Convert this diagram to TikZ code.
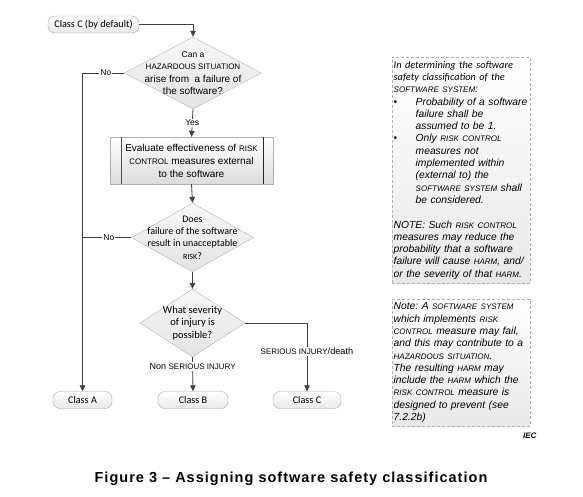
\documentclass[tikz,border=0pt]{standalone}
\usepackage{fontspec}
\setmainfont{Liberation Sans}
\newfontfamily\calibri{Carlito}
\usetikzlibrary{positioning}
\usetikzlibrary{arrows.meta}
\usetikzlibrary{shapes.geometric}

% fake small capitals, as in the standard's typesetting
\newcommand{\smc}[1]{{\fontsize{8}{9}\selectfont #1}}

\begin{document}
\frenchspacing
\begin{tikzpicture}[x=1pt,y=-1pt]
        \tikzstyle{terminal}=[draw=gray!70, rounded corners=7pt,
            top color=white, bottom color=gray!18, minimum height=17pt,
            inner sep=1pt, font=\calibri\fontsize{10.2}{12}\selectfont]
        \tikzstyle{decision}=[diamond, draw=gray!60, top color=gray!6,
            bottom color=gray!22, inner sep=0pt]
        \tikzstyle{dtext}=[align=center, inner sep=0pt]
        \tikzstyle{process}=[draw=gray!60, top color=white, bottom color=gray!28,
            minimum width=163pt, minimum height=47pt, inner sep=0pt,
            align=center, font=\fontsize{10}{13}\selectfont]
        \tikzstyle{note}=[draw=gray!60, dash pattern=on 3pt off 2pt,
            top color=white, bottom color=gray!18, text width=135pt,
            inner xsep=1.5pt, inner ysep=2pt, align=left,
            font=\itshape\fontsize{10.3}{12.3}\selectfont]
        \tikzstyle{flow}=[draw=black!75, line width=0.8pt,
            -{Triangle[length=6pt, width=5.5pt]}]
        \tikzstyle{link}=[draw=black!75, line width=0.8pt]
        \tikzstyle{answer}=[fill=white, inner sep=1pt,
            font=\fontsize{8.5}{10}\selectfont]

        \useasboundingbox (0,0) rectangle (583,497);

            % flow chart
            \node[terminal, minimum width=91pt] (start) at (93.5,24.5) {Class C (by default)};

            \node[decision, minimum width=137pt, minimum height=72pt,
                label={[dtext, font=\fontsize{10}{12.6}\selectfont]center:{{\fontsize{8.5}{10}\selectfont Can a}\\
                \smc{HAZARDOUS SITUATION}\\arise from\ \ a failure of\\the software?}}]
                (hazard) at (193,73) {};

            \node[process] (evaluate) at (191.5,160.5)
                {Evaluate effectiveness of \smc{RISK}\\\smc{CONTROL} measures external\\to the software};
            \draw[black!70] ([xshift=11pt]evaluate.north west) -- ([xshift=11pt]evaluate.south west);
            \draw[black!85] ([xshift=-10pt]evaluate.north east) -- ([xshift=-10pt]evaluate.south east);

            \node[decision, minimum width=122pt, minimum height=69pt,
                label={[dtext, font=\calibri\fontsize{10}{12.4}\selectfont]center:{Does\\
                failure of the software\\result in unacceptable\\\smc{RISK}?}}]
                (risk) at (192.5,237.5) {};

            \node[decision, minimum width=105pt, minimum height=68pt,
                label={[dtext, font=\calibri\fontsize{10.5}{12.5}\selectfont]center:{What severity\\
                of injury is\\possible?}}]
                (severity) at (192.5,323) {};

            \node[terminal, minimum width=59pt] (classA) at (82.5,400) {Class A};
            \node[terminal, minimum width=70pt] (classB) at (193,400) {Class B};
            \node[terminal, minimum width=68pt] (classC) at (307,400) {Class C};

            \coordinate (join) at (classA.north |- risk.west);

            \draw[flow] (start.east) -| (hazard.north);
            \draw[flow] (hazard.south) -- (evaluate.north)
            node[answer, midway] {Yes};
            \draw[flow] (evaluate.south) -- (risk.north);
            \draw[flow] (risk.south) -- (severity.north);
            \draw[flow] (hazard.west) -| (classA.north)
            node[answer, pos=0.22] {No};
            \draw[link] (risk.west) -- (join)
            node[answer, pos=0.46] {No};
            \draw[flow] (severity.south) -- (classB.north)
            node[answer, pos=0.27, font=\fontsize{9}{10}\selectfont] {Non \smc{SERIOUS INJURY}};
            \draw[flow] (severity.east) -| (classC.north)
            node[answer, pos=0.71, font=\fontsize{9.2}{10}\selectfont] {\smc{SERIOUS INJURY}/death};

            % notes at the side
            \node[note, anchor=north west, minimum height=226pt] (scope) at (392,57) {%
                {\calibri In determining the software\\safety classification of the}\\
                \smc{SOFTWARE SYSTEM}:\\
                \makebox[22pt][l]{\upshape\textbullet}Probability of a software\\
                \hspace*{22pt}failure shall be\\
                \hspace*{22pt}assumed to be 1.\\
                \makebox[22pt][l]{\upshape\textbullet}Only \smc{RISK CONTROL}\\
                \hspace*{22pt}measures not\\
                \hspace*{22pt}implemented within\\
                \hspace*{22pt}(external to) the\\
                \hspace*{22pt}\smc{SOFTWARE SYSTEM} shall\\
                \hspace*{22pt}be considered.\\[12.3pt]
                NOTE: Such \smc{RISK CONTROL}\\
                measures may reduce the\\
                probability that a software\\
                failure will cause \smc{HARM}, and/\\
                or the severity of that \smc{HARM}.};

            \node[note, anchor=north west, minimum height=127pt] (caveat) at (392,299) {%
                Note: A \smc{SOFTWARE SYSTEM}\\
                which implements \smc{RISK}\\
                \smc{CONTROL} measure may fail,\\
                and this may contribute to a\\
                \smc{HAZARDOUS SITUATION}.\\
                The resulting \smc{HARM} may\\
                include the \smc{HARM} which the\\
                \smc{RISK CONTROL} measure is\\
                designed to prevent (see\\
                7.2.2b)};

            \node[font=\bfseries\itshape\fontsize{8}{9}\selectfont, anchor=east] (iec) at (540,436) {IEC};

            \node[font=\bfseries\fontsize{14.5}{16}\selectfont] (caption) at (291,479)
                {\addfontfeature{LetterSpace=7}Figure 3 – Assigning software safety classification};
        \end{tikzpicture}
\end{document}
